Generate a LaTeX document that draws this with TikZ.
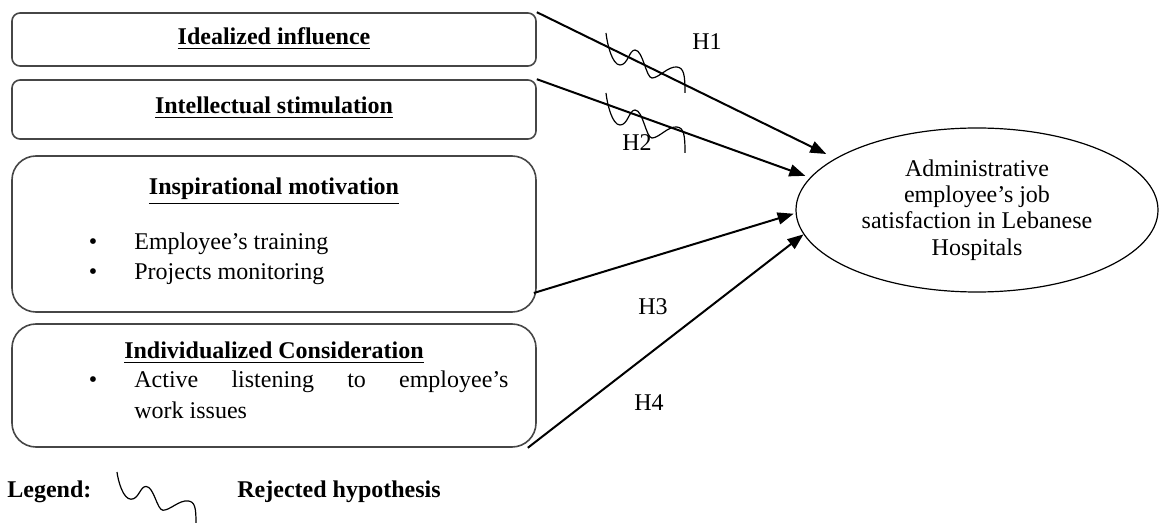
\documentclass[tikz,border=0pt]{standalone}
\usepackage{fontspec}
\setmainfont{Liberation Serif}
\usepackage{tikz}
\usetikzlibrary{arrows.meta,positioning,shapes.geometric}
\definecolor{framegray}{RGB}{70,70,70}

\tikzset{
  factor/.style={draw=framegray, line width=0.8pt, minimum width=262pt, inner sep=0pt},
  heading/.style={anchor=base, font=\fontsize{12}{14}\selectfont\bfseries},
  item/.style={anchor=base west, font=\fontsize{12}{14}\selectfont, inner sep=0pt},
  dot/.style={anchor=base, font=\fontsize{12}{14}\selectfont, inner sep=0pt},
  hyp/.style={-{Triangle[length=8pt,width=6pt]}, line width=1pt},
  hlabel/.style={font=\fontsize{12}{14}\selectfont},
  reject/.pic={
    \draw[line width=0.6pt] (0,0) .. controls (1,10) and (6,32) .. (14,32)
      .. controls (22,32) and (23,17) .. (29,17)
      .. controls (37,17) and (40,45) .. (46,45)
      .. controls (53,45) and (62,33) .. (71,34)
      .. controls (78,35) and (79,42) .. (79,60);
  }
}

\begin{document}
\begin{tikzpicture}[x=0.5pt,y=-0.5pt]
    \useasboundingbox (0,0) rectangle (1161,523);
    % Leadership dimensions
    \node[factor, rounded corners=4pt, minimum height=26.5pt] (idi) at (274,39.5) {};
    \node[factor, rounded corners=4pt, minimum height=29.5pt] (ints) at (274,109.5) {};
    \node[factor, rounded corners=12pt, minimum height=78pt] (insp) at (274,234) {};
    \node[factor, rounded corners=12pt, minimum height=61.5pt] (indc) at (274,385.5) {};
    \node[heading] (idit) at (274,45) {\underline{Idealized influence}};
    \node[heading] (intt) at (274,114) {\underline{Intellectual stimulation}};
    \node[heading] (inst) at (274,195) {\underline{Inspirational motivation}};
    \node[dot] (b1) at (93,250) {\textbullet};
    \node[item] (train) at (134,250) {Employee's training};
    \node[dot] (b2) at (93,280) {\textbullet};
    \node[item] (monit) at (134,280) {Projects monitoring};
    \node[heading] (indt) at (274,359) {\underline{Individualized Consideration}};
    \node[dot] (b3) at (93,387) {\textbullet};
    \node[item] (listen) at (134,387) {\makebox[187pt][s]{Active listening to employee's}};
    \node[item] (issues) at (134,418) {work issues};
    % Outcome
    \node[ellipse, draw, line width=0.6pt, minimum width=181pt, minimum height=82pt,
          inner sep=0pt, align=center, font=\fontsize{12}{13.2}\selectfont] (sat) at (977,210)
          {Administrative\\employee's job\\satisfaction in Lebanese\\Hospitals};
    % Hypotheses
    \draw[hyp, shorten >=5pt] (idi.north east) -- (sat.160);
    \draw[hyp, shorten >=2.5pt] (ints.north east) -- (sat.169);
    \draw[hyp, shorten >=1pt] ([xshift=-1.5pt,yshift=-29.5pt]insp.east) -- (sat.181);
    \draw[hyp] ([xshift=-4.5pt]indc.south east) -- (sat.188.5);
    \node[hlabel] (h1) at (707,42) {H1};
    \node[hlabel] (h2) at (637,143) {H2};
    \node[hlabel] (h3) at (653,307) {H3};
    \node[hlabel] (h4) at (649,403) {H4};
    % Rejected marks
    \pic at (606,33) {reject};
    \pic at (606,93) {reject};
    % Legend
    \node[heading, anchor=base west, inner sep=0pt] (leg) at (7,497) {Legend:};
    \pic[yscale=0.85] at (117,472) {reject};
    \node[heading, anchor=base west, inner sep=0pt] (rej) at (237,497) {Rejected hypothesis};
\end{tikzpicture}
\end{document}
